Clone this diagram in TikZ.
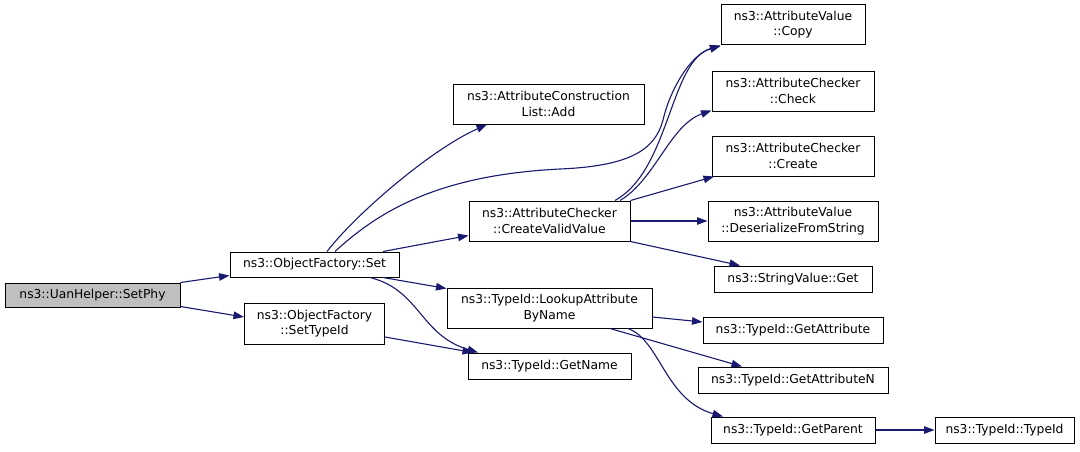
\documentclass[tikz,border=0pt]{standalone}
\usepackage{fontspec}
\setmainfont{DejaVu Sans}
\usetikzlibrary{arrows.meta,calc}
\definecolor{edgecol}{HTML}{191970}
\definecolor{grayfill}{HTML}{BFBFBF}
\begin{document}
\begin{tikzpicture}[x=1pt,y=-1pt,
  fn/.style={draw=black,line width=1pt,fill=white,inner sep=0pt,align=center,
    font=\fontsize{12.3}{15.5}\selectfont},
  cur/.style={fn,fill=grayfill},
  call/.style={draw=edgecol,line width=1.1pt,-{Triangle[length=10.5pt,width=7.5pt]}},
  every node/.append style={anchor=center}]
\useasboundingbox[fill=white] (0,0) rectangle (1080,451);
% nodes
\node[cur,minimum width=175pt,minimum height=24pt] (phy) at (92.5,295) {ns3::UanHelper::SetPhy};
\node[fn,minimum width=169pt,minimum height=25pt] (set) at (314.5,264.5) {ns3::ObjectFactory::Set};
\node[fn,minimum width=140pt,minimum height=41pt] (stid) at (314.5,323.5) {ns3::ObjectFactory\\::SetTypeId};
\node[fn,minimum width=191pt,minimum height=40pt] (add) at (548.5,104) {ns3::AttributeConstruction\\List::Add};
\node[fn,minimum width=161pt,minimum height=40pt] (cvv) at (549.5,221) {ns3::AttributeChecker\\::CreateValidValue};
\node[fn,minimum width=205pt,minimum height=40pt] (look) at (549.5,308) {ns3::TypeId::LookupAttribute\\ByName};
\node[fn,minimum width=163pt,minimum height=26pt] (gname) at (549.5,366) {ns3::TypeId::GetName};
\node[fn,minimum width=144pt,minimum height=40pt] (copy) at (793,24.5) {ns3::AttributeValue\\::Copy};
\node[fn,minimum width=162pt,minimum height=40pt] (check) at (793,91) {ns3::AttributeChecker\\::Check};
\node[fn,minimum width=162pt,minimum height=40pt] (create) at (793,156) {ns3::AttributeChecker\\::Create};
\node[fn,minimum width=170pt,minimum height=40pt] (deser) at (793,221) {ns3::AttributeValue\\::DeserializeFromString};
\node[fn,minimum width=158pt,minimum height=26pt] (sget) at (793,279) {ns3::StringValue::Get};
\node[fn,minimum width=180pt,minimum height=26pt] (gattr) at (793,330) {ns3::TypeId::GetAttribute};
\node[fn,minimum width=190pt,minimum height=26pt] (gattrn) at (793,380) {ns3::TypeId::GetAttributeN};
\node[fn,minimum width=164pt,minimum height=26pt] (gpar) at (793,430) {ns3::TypeId::GetParent};
\node[fn,minimum width=139pt,minimum height=26pt] (tid) at (1004.5,430) {ns3::TypeId::TypeId};
% edges
\draw[call] (phy.north east) -- ([yshift=2pt]set.south west);
\draw[call] ([yshift=1pt]phy.south east) -- ([yshift=6.5pt]stid.west);
\draw[call] ([xshift=12.5pt]set.north) .. controls (355,215) and (430,150) .. ([xshift=-61.5pt]add.south);
\draw[call] ([xshift=20.5pt]set.north) .. controls (380,210) and (440,175) .. (560,169)
   .. controls (630,166) and (655,150) .. (663,120) .. controls (670,90) and (690,55) .. ([yshift=-0.5pt]copy.south west);
\draw[call] ([xshift=68.5pt]set.north) -- ([yshift=6pt]cvv.south west);
\draw[call] ([xshift=68.5pt]set.south) -- ([yshift=-1pt]look.north west);
\draw[call] ([xshift=55.5pt]set.south) .. controls (420,290) and (420,335) .. ([xshift=-71.5pt]gname.north);
\draw[call] ([yshift=-13.5pt]stid.east) -- ([xshift=-76.5pt]gname.north);
\draw[call] ([xshift=65.5pt]cvv.north) .. controls (670,170) and (670,60) .. ([yshift=-1pt]copy.south west);
\draw[call] ([xshift=70.5pt]cvv.north) .. controls (655,180) and (670,125) .. ([yshift=1pt]check.south west);
\draw[call] (cvv.north east) -- ([xshift=-79pt]create.south);
\draw[call] (cvv.east) -- (deser.west);
\draw[call] (cvv.south east) -- ([xshift=-53pt]sget.north);
\draw[call] ([yshift=-9pt]look.east) -- ([yshift=8pt]gattr.west);
\draw[call] ([xshift=60.5pt]look.south) -- ([xshift=-51pt]gattrn.north);
\draw[call] ([xshift=78.5pt]look.south) .. controls (660,340) and (665,400) .. ([xshift=-70pt]gpar.north);
\draw[call] (gpar.east) -- (tid.west);
\end{tikzpicture}
\end{document}
